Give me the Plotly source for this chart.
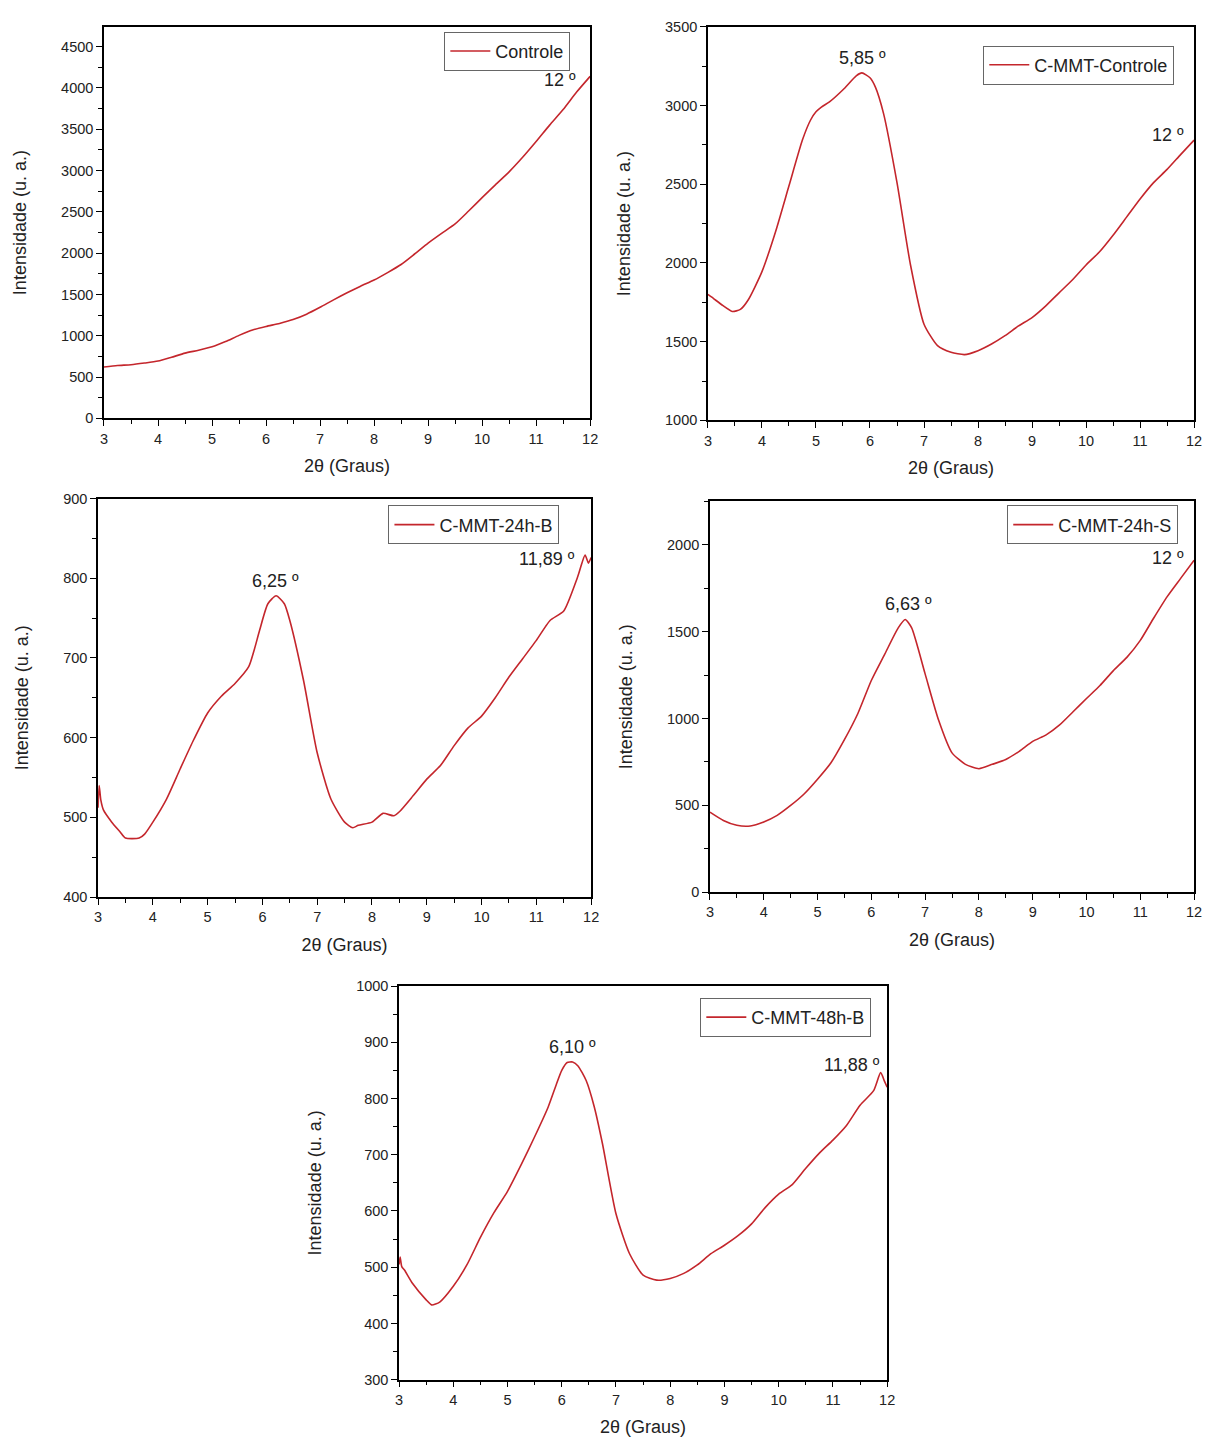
import plotly.graph_objects as go

# ---------------- data ----------------
x_controle = [3.0, 3.25, 3.5, 3.75, 4.0, 4.25, 4.5, 4.75, 5.0, 5.25, 5.5, 5.75, 6.0, 6.25, 6.5, 6.75,
              7.0, 7.25, 7.5, 7.75, 8.0, 8.25, 8.5, 8.75, 9.0, 9.25, 9.5, 9.75, 10.0, 10.25, 10.5,
              10.75, 11.0, 11.25, 11.5, 11.75, 12.0]
y_controle = [622, 640, 650, 670, 694, 740, 790, 825, 866, 930, 1005, 1070, 1113, 1150, 1197, 1262,
              1345, 1435, 1520, 1600, 1675, 1765, 1863, 1990, 2122, 2240, 2354, 2510, 2672, 2830,
              2984, 3160, 3351, 3550, 3738, 3950, 4140]

x_cmmt_controle = [3.0, 3.1, 3.25, 3.45, 3.6, 3.75, 4.0, 4.25, 4.5, 4.75, 4.9, 5.0, 5.1, 5.25, 5.5,
                   5.75, 5.85, 6.0, 6.1, 6.25, 6.5, 6.75, 7.0, 7.25, 7.5, 7.75, 8.0, 8.25, 8.5, 8.75,
                   9.0, 9.25, 9.5, 9.75, 10.0, 10.25, 10.5, 10.75, 11.0, 11.25, 11.5, 11.75, 12.0]
y_cmmt_controle = [1800, 1775, 1736, 1692, 1705, 1768, 1945, 2197, 2490, 2782, 2908, 2960, 2990, 3023,
                   3100, 3190, 3207, 3176, 3117, 2950, 2510, 1987, 1611, 1475, 1433, 1418, 1443, 1485,
                   1538, 1600, 1653, 1726, 1810, 1893, 1987, 2071, 2176, 2291, 2406, 2510, 2594, 2688,
                   2780]

x_24h_b = [3.0, 3.02, 3.05, 3.1, 3.25, 3.4, 3.5, 3.75, 3.85, 4.0, 4.25, 4.5, 4.75, 5.0, 5.25, 5.5, 5.75,
           5.85, 5.95, 6.1, 6.25, 6.4, 6.5, 6.75, 7.0, 7.25, 7.5, 7.65, 7.75, 8.0, 8.2, 8.4, 8.5, 8.75,
           9.0, 9.25, 9.5, 9.75, 10.0, 10.25, 10.5, 10.75, 11.0, 11.25, 11.5, 11.75, 11.89, 11.95, 12.0]
y_24h_b = [512, 540, 522, 509, 494, 482, 474, 474, 479, 494, 523, 561, 598, 631, 652, 668, 689,
           710, 735, 768, 778, 768, 747, 672, 581, 523, 494, 487, 490, 494, 505, 502, 507, 527,
           548, 565, 590, 612, 627, 650, 676, 699, 722, 747, 759, 801, 829, 819, 826]

x_24h_s = [3.0, 3.25, 3.5, 3.75, 4.0, 4.25, 4.5, 4.75, 5.0, 5.25, 5.5, 5.75, 6.0, 6.25, 6.5, 6.63,
           6.75, 7.0, 7.25, 7.5, 7.75, 8.0, 8.25, 8.5, 8.75, 9.0, 9.25, 9.5, 9.75, 10.0, 10.25, 10.5,
           10.75, 11.0, 11.25, 11.5, 11.75, 12.0]
y_24h_s = [461, 413, 385, 381, 404, 442, 499, 565, 650, 745, 878, 1029, 1219, 1371, 1522, 1570,
           1522, 1257, 991, 802, 736, 711, 736, 764, 811, 868, 906, 963, 1039, 1115, 1190, 1276,
           1352, 1450, 1579, 1702, 1807, 1911]

x_48h_b = [3.0, 3.02, 3.05, 3.1, 3.25, 3.5, 3.6, 3.75, 4.0, 4.25, 4.5, 4.75, 5.0, 5.25, 5.5, 5.75,
           5.9, 6.0, 6.1, 6.2, 6.3, 6.45, 6.6, 6.75, 7.0, 7.25, 7.5, 7.75, 8.0, 8.25, 8.5, 8.75, 9.0,
           9.25, 9.5, 9.75, 10.0, 10.25, 10.5, 10.75, 11.0, 11.25, 11.5, 11.75, 11.88, 11.95, 12.0]
y_48h_b = [505, 518, 501, 495, 471, 442, 433, 438, 466, 504, 553, 597, 635, 682, 732, 785,
           825, 850, 864, 865, 858, 832, 785, 720, 595, 524, 486, 477, 480, 489, 504, 524, 539,
           556, 577, 606, 630, 647, 676, 703, 726, 752, 788, 814, 846, 831, 820]

series_names = ["Controle", "C-MMT-Controle", "C-MMT-24h-B", "C-MMT-24h-S", "C-MMT-48h-B"]
peak_labels = [["12 º"], ["5,85 º", "12 º"], ["6,25 º", "11,89 º"], ["6,63 º", "12 º"], ["6,10 º", "11,88 º"]]

# ---------------- layout helpers ----------------
W, H = 1211, 1448
COLOR = "#c4262c"
FONT = "Liberation Sans, Arial, sans-serif"

# plot frames in pixels: (left, right, top, bottom)
frames = [(101, 592, 19, 415), (711, 1202, 19, 417), (95, 593, 496, 899),
          (713, 1202, 499, 894), (399, 892, 989, 1387)]
yranges = [[0, 4740], [1000, 3500], [400, 900], [0, 2250], [300, 1000]]
ydticks = [500, 500, 100, 500, 100]
legend_boxes = [(572, 24), (1182, 38), (561, 503), (1186, 503), (876, 1001)]
# annotation positions in data coords
ann_pos = [[(11.45, 4100)], [(5.86, 3304), (11.52, 2814)], [(6.24, 796), (11.2, 824)],
           [(6.70, 1661), (11.52, 1923)], [(6.19, 892), (11.36, 859)]]

xs = [x_controle, x_cmmt_controle, x_24h_b, x_24h_s, x_48h_b]
ys = [y_controle, y_cmmt_controle, y_24h_b, y_24h_s, y_48h_b]

fig = go.Figure()
layout = dict(width=W, height=H, margin=dict(l=0, r=0, t=0, b=0),
              paper_bgcolor="white", plot_bgcolor="white",
              font=dict(family=FONT, color="#222", size=14))
annotations = []

for i in range(5):
    n = "" if i == 0 else str(i + 1)
    lg = "legend" if i == 0 else "legend" + str(i + 1)
    fig.add_trace(go.Scatter(x=xs[i], y=ys[i], mode="lines", name=series_names[i],
                             line=dict(color=COLOR, width=1.6, shape="spline", smoothing=0.6),
                             xaxis="x" + n, yaxis="y" + n, legend=lg, showlegend=True))
    l, r, t, b = frames[i]
    common = dict(showline=True, linecolor="black", linewidth=1.5, mirror=True, showgrid=False,
                  zeroline=False, ticks="outside", ticklen=6, tickwidth=1.3, tickcolor="black",
                  tickfont=dict(size=14.5, color="#222", family=FONT))
    layout["xaxis" + n] = dict(domain=[l / W, r / W], anchor="y" + n, range=[3, 12], dtick=1,
                               minor=dict(ticks="outside", ticklen=4, dtick=0.5, tickcolor="black", tickwidth=1.2),
                               title=dict(text="2θ (Graus)", font=dict(size=18, color="#222"), standoff=14),
                               **common)
    layout["yaxis" + n] = dict(domain=[1 - b / H, 1 - t / H], anchor="x" + n, range=yranges[i],
                               dtick=ydticks[i],
                               minor=dict(ticks="outside", ticklen=4, dtick=ydticks[i] / 2, tickcolor="black", tickwidth=1.2),
                               title=dict(text="Intensidade (u. a.)", font=dict(size=18, color="#222"), standoff=30),
                               **common)
    lx, ly = legend_boxes[i]
    layout[lg] = dict(x=lx / W, y=1 - ly / H, xanchor="right", yanchor="top",
                      bgcolor="white", bordercolor="#666", borderwidth=1,
                      font=dict(size=18, color="#222", family=FONT),
                      itemwidth=40, tracegroupgap=0)
    for (ax, ay), txt in zip(ann_pos[i], peak_labels[i]):
        annotations.append(dict(x=ax, y=ay, xref="x" + n, yref="y" + n, text=txt, showarrow=False,
                                font=dict(size=18, color="#222", family=FONT)))

layout["annotations"] = annotations
fig.update_layout(**layout)
fig.write_html("out.html", config={"displayModeBar": False},
               post_script="document.body.style.margin='0px';document.body.style.padding='0px';"
                           "document.body.style.overflow='hidden';")
